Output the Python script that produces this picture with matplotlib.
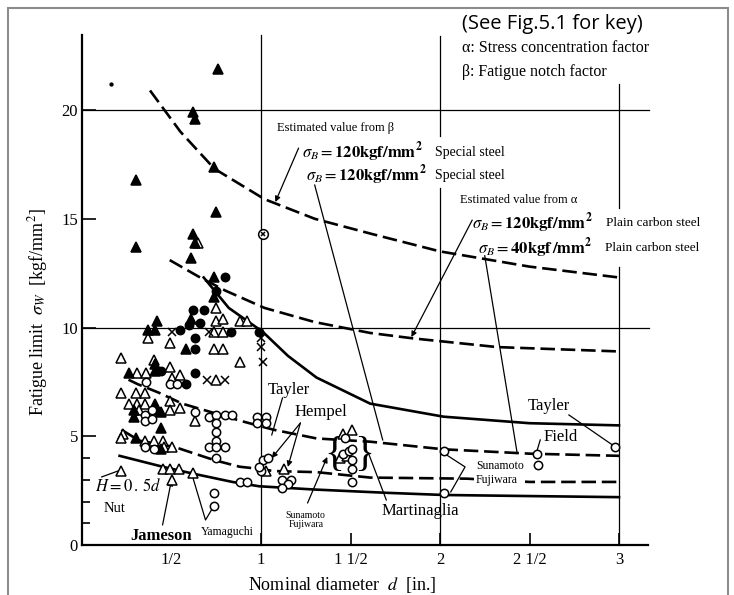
import matplotlib.pyplot as plt
from matplotlib.patches import Rectangle

plt.rcParams["font.family"] = ["Liberation Serif", "DejaVu Serif"]
plt.rcParams["mathtext.fontset"] = "stix"

# values
# x: nominal diameter d [in.], y: fatigue limit sigma_w [kgf/mm^2]
x_ticks = [0.5, 1, 1.5, 2, 2.5, 3]
x_tick_labels = ["1/2", "1", "1 1/2", "2", "2 1/2", "3"]
y_ticks = [0, 5, 10, 15, 20]
y_minor_ticks = [1, 2, 3, 4]

# estimated curves
beta1_x = [0.38, 0.55, 0.74, 1.02, 1.30, 1.62, 2.00, 2.50, 3.00]
beta1_y = [20.9, 19.0, 17.3, 15.9, 15.0, 14.3, 13.5, 12.8, 12.3]
beta2_x = [0.49, 0.66, 0.80, 1.02, 1.30, 1.61, 1.85, 2.32, 3.00]
beta2_y = [13.1, 12.3, 11.7, 10.9, 10.25, 9.75, 9.5, 9.1, 8.9]
upper_x = [0.68, 0.82, 1.01, 1.15, 1.31, 1.61, 2.02, 2.50, 3.00]
upper_y = [12.3, 10.9, 9.8, 8.7, 7.7, 6.5, 5.9, 5.6, 5.5]
alpha1_x = [0.26, 0.31, 0.43, 0.56, 0.89, 1.07, 1.31, 1.61, 2.02, 2.50, 3.00]
alpha1_y = [7.6, 7.4, 7.0, 6.5, 5.7, 5.3, 4.9, 4.75, 4.4, 4.2, 4.1]
alpha2_x = [0.22, 0.32, 0.52, 0.74, 0.88, 0.99, 1.07, 1.31, 1.61, 2.15, 2.50, 3.00]
alpha2_y = [5.3, 4.8, 4.5, 3.9, 3.6, 3.5, 3.4, 3.35, 3.1, 3.05, 2.9, 2.9]
lower_x = [0.21, 0.45, 0.61, 0.84, 0.99, 1.30, 1.70, 2.02, 2.50, 3.00]
lower_y = [4.1, 3.6, 3.3, 2.9, 2.7, 2.55, 2.4, 2.3, 2.25, 2.2]

# test points
filled_tri_x = [0.76, 0.62, 0.63, 0.30, 0.74, 0.75, 0.30, 0.62, 0.63, 0.61,
                0.74, 0.74, 0.61, 0.42, 0.37, 0.41, 0.58, 0.26, 0.41, 0.41,
                0.41, 0.29, 0.42, 0.29, 0.44, 0.44, 0.30, 0.44]
filled_tri_y = [21.9, 19.9, 19.6, 16.8, 17.4, 15.3, 13.7, 14.3, 13.9, 13.2,
                12.3, 11.4, 10.4, 10.3, 9.9, 9.9, 9.0, 7.9, 8.0, 8.3,
                6.5, 6.2, 6.2, 5.9, 6.1, 5.4, 4.9, 4.4]
open_tri_x = [0.65, 0.75, 0.37, 0.49, 0.74, 0.79, 0.75, 0.79, 0.88, 0.92,
              0.74, 0.79, 0.22, 0.40, 0.49, 0.88, 0.31, 0.36, 0.50, 0.55,
              0.75, 0.22, 0.30, 0.35, 0.26, 0.31, 0.35, 0.49, 0.49, 0.55,
              0.32, 0.63, 0.23, 0.22, 0.35, 0.40, 0.45, 0.46, 0.50, 0.22,
              0.45, 0.49, 0.54, 0.62, 0.50, 1.13, 1.03, 1.46, 1.51, 1.44, 1.48]
open_tri_y = [13.9, 10.9, 9.5, 9.3, 9.8, 9.8, 10.3, 10.4, 10.3, 10.3,
              9.0, 9.0, 8.6, 8.5, 8.2, 8.4, 7.9, 7.9, 7.7, 7.8,
              7.6, 7.0, 7.0, 7.0, 6.5, 6.5, 6.5, 6.6, 6.2, 6.3,
              6.2, 5.7, 5.1, 4.9, 4.8, 4.8, 4.8, 4.5, 4.5, 3.4,
              3.5, 3.5, 3.5, 3.3, 3.0, 3.5, 3.4, 5.1, 5.3, 4.0, 4.1]
filled_circ_x = [0.80, 0.75, 0.62, 0.68, 0.66, 0.60, 0.55, 0.83, 0.99, 0.63,
                 0.63, 0.63, 0.58, 0.44]
filled_circ_y = [12.3, 11.7, 10.8, 10.8, 10.2, 10.1, 9.9, 9.8, 9.8, 9.5,
                 9.0, 7.9, 7.4, 8.0]
open_circ_x = [0.36, 0.49, 0.53, 0.35, 0.39, 0.35, 0.39, 0.63,
               0.71, 0.75, 0.80, 0.84, 0.75, 0.75, 0.75, 0.71, 0.75, 0.80, 0.75,
               0.98, 1.03, 0.98, 1.03, 0.35, 0.40,
               1.01, 1.04, 1.00, 0.99, 0.88, 0.92, 0.74, 0.74,
               1.12, 1.17, 1.15, 1.12,
               1.47, 1.46, 1.49, 1.51, 1.51, 1.51, 1.51,
               2.02, 2.02, 2.54, 2.55, 2.98]
open_circ_y = [7.5, 7.4, 7.4, 6.0, 6.2, 5.7, 5.8, 6.1,
               5.9, 6.0, 6.0, 6.0, 5.6, 5.2, 4.8, 4.5, 4.5, 4.5, 4.0,
               5.9, 5.9, 5.6, 5.6, 4.5, 4.4,
               3.9, 4.0, 3.4, 3.6, 2.9, 2.9, 2.4, 1.8,
               3.0, 3.0, 2.8, 2.6,
               4.9, 4.2, 4.3, 4.4, 3.9, 3.5, 2.9,
               4.3, 2.4, 4.2, 3.7, 4.5]
cross_x = [0.50, 0.71, 0.70, 0.80, 1.00, 1.00, 1.01]
cross_y = [9.8, 9.8, 7.6, 7.6, 9.5, 9.1, 8.4]
otimes_x = [1.01]
otimes_y = [14.3]
stray_x = [0.16]
stray_y = [21.2]

W, H = 734, 595
fig = plt.figure(figsize=(W / 100, H / 100), dpi=100)
ax = fig.add_axes([82 / W, 50 / H, 566 / W, 510 / H])
ax.set_xlim(0, 3.162)
ax.set_ylim(0, 23.45)

for s in ["top", "right"]:
    ax.spines[s].set_visible(False)
for s in ["left", "bottom"]:
    ax.spines[s].set_linewidth(1.6)

ax.set_xticks(x_ticks)
ax.set_xticklabels(x_tick_labels, fontsize=12)
ax.set_yticks(y_ticks)
ax.set_yticklabels([str(v) for v in y_ticks], fontsize=12)
ax.set_yticks(y_minor_ticks, minor=True)
ax.tick_params(axis="x", direction="in", length=9, width=1.2, pad=5)
ax.tick_params(axis="y", which="major", direction="in", length=10, width=1.2, pad=3)
ax.tick_params(axis="y", which="minor", direction="in", length=6, width=1.2)
ax.xaxis.get_major_ticks()[0].tick1line.set_visible(False)

# grid lines of the original chart (broken where the labels sit)
grid = dict(color="black", lw=0.9, clip_on=False, zorder=1)
ax.plot([1, 1], [0, 23.45], **grid)
ax.plot([2, 2], [0, 16.4], **grid)
ax.plot([2, 2], [18.8, 23.4], **grid)
ax.plot([3, 3], [0, 12.8], **grid)
ax.plot([3, 3], [15.5, 21.2], **grid)
ax.plot([0, 3.17], [20, 20], **grid)
ax.plot([0, 3.17], [10, 10], **grid)

dash = (0, (5.5, 2.2))
ax.plot(beta1_x, beta1_y, color="black", lw=1.9, ls=dash, zorder=2)
ax.plot(beta2_x, beta2_y, color="black", lw=1.9, ls=dash, zorder=2)
ax.plot(upper_x, upper_y, color="black", lw=1.9, zorder=2)
ax.plot(alpha1_x, alpha1_y, color="black", lw=1.9, ls=dash, zorder=2)
ax.plot(alpha2_x, alpha2_y, color="black", lw=1.9, ls=dash, zorder=2)
ax.plot(lower_x, lower_y, color="black", lw=1.9, zorder=2)

mk = dict(ls="none", color="black", mew=1.1, clip_on=False, zorder=4)
ax.plot(open_tri_x, open_tri_y, marker="^", ms=6.5, mfc="white", **mk)
ax.plot(filled_tri_x, filled_tri_y, marker="^", ms=6.5, mfc="black", **mk)
ax.plot(open_circ_x, open_circ_y, marker="o", ms=6, mfc="white", **mk)
ax.plot(filled_circ_x, filled_circ_y, marker="o", ms=6, mfc="black", **mk)
ax.plot(cross_x, cross_y, marker="x", ms=5.5, **mk)
ax.plot(otimes_x, otimes_y, marker="o", ms=7, mfc="white", **mk)
ax.plot(otimes_x, otimes_y, marker="x", ms=3.5, **mk)
ax.plot(stray_x, stray_y, marker="o", ms=2, **mk)

# leader lines and arrows
line = dict(color="black", lw=0.9, zorder=3)
arrow = dict(arrowstyle="-|>", color="black", lw=0.9, mutation_scale=8, shrinkA=0, shrinkB=0)
ax.annotate("", xy=(1.08, 15.77), xytext=(1.21, 18.25), arrowprops=arrow)
ax.plot([1.30, 1.68], [16.55, 4.83], **line)
ax.annotate("", xy=(1.84, 9.56), xytext=(2.18, 14.94), arrowprops=arrow)
ax.plot([2.25, 2.43], [13.3, 4.28], **line)
ax.plot([1.12, 1.06], [6.76, 5.06], **line)
ax.annotate("", xy=(1.06, 4.0), xytext=(1.22, 5.61), arrowprops=arrow)
ax.annotate("", xy=(1.15, 3.59), xytext=(1.22, 5.61), arrowprops=arrow)
ax.annotate("", xy=(1.37, 4.05), xytext=(1.26, 1.93), arrowprops=arrow)
ax.plot([1.70, 1.60], [2.07, 4.23], **line)
ax.plot([2.02, 2.14, 2.06], [4.23, 3.59, 2.44], **line)
ax.plot([2.56, 2.54], [4.83, 4.28], **line)
ax.plot([2.72, 2.96], [5.98, 4.62], **line)
ax.plot([0.11, 0.20], [3.13, 3.40], **line)
ax.annotate("", xy=(0.50, 2.99), xytext=(0.45, 0.92), arrowprops=arrow)
ax.plot([0.61, 0.69, 0.74], [3.36, 1.15, 1.84], **line)

# curve labels
ax.text(1.09, 19.17, "Estimated value from β", fontsize=9, va="center")
sig120 = r"$\sigma_B = \mathbf{120kgf/mm^2}$"
ax.text(1.23, 18.07, sig120, fontsize=12, va="center")
ax.text(1.97, 18.07, "Special steel", fontsize=10, va="center")
ax.text(1.25, 17.01, sig120, fontsize=12, va="center")
ax.text(1.97, 17.01, "Special steel", fontsize=10, va="center")
ax.text(2.11, 15.86, "Estimated value from α", fontsize=9, va="center")
ax.text(2.18, 14.80, sig120, fontsize=12, va="center")
ax.text(2.93, 14.80, "Plain carbon steel", fontsize=9.5, va="center")
ax.text(2.21, 13.66, r"$\sigma_B = \mathbf{40kgf\,/mm^2}$", fontsize=12, va="center")
ax.text(2.92, 13.66, "Plain carbon steel", fontsize=9.5, va="center")

# researcher labels
ax.text(1.04, 7.13, "Tayler", fontsize=12, va="center")
ax.text(1.19, 6.11, "Hempel", fontsize=12, va="center")
ax.text(1.25, 1.15, "Sunamoto\nFujiwara", fontsize=7, ha="center", va="center", linespacing=1.1)
ax.text(1.89, 1.56, "Martinaglia", fontsize=12, ha="center", va="center")
ax.text(2.20, 3.30, "Sunamoto\nFujiwara", fontsize=8.5, va="center", linespacing=1.2,
        bbox=dict(facecolor="white", edgecolor="none", pad=1), zorder=5)
ax.text(2.58, 4.97, "Field", fontsize=12, va="center")
ax.text(2.49, 6.39, "Tayler", fontsize=12, va="center")
ax.text(0.07, 2.67, r"$H = 0\,.\,5d$", fontsize=12, va="center")
ax.text(0.12, 1.70, "Nut", fontsize=10.5, va="center")
ax.text(0.44, 0.41, "Jameson", fontsize=12, ha="center", va="center", fontweight="bold")
ax.text(0.81, 0.60, "Yamaguchi", fontsize=8.5, ha="center", va="center")
ax.text(1.41, 4.14, "{", fontsize=30, ha="center", va="center", fontweight="light")
ax.text(1.575, 4.14, "}", fontsize=30, ha="center", va="center", fontweight="light")

# axis titles and key notes
fig.text(38 / W, 1 - 312 / H, r"Fatigue limit  $\sigma_W$  [kgf/mm$^2$]",
         rotation=90, ha="center", va="center", fontsize=13)
fig.text(342 / W, 1 - 585 / H, r"Nominal diameter  $d$  [in.]",
         ha="center", va="center", fontsize=13)
fig.text(462 / W, 1 - 24 / H, "(See Fig.5.1 for key)",
         family=["Open Sans", "DejaVu Sans"], fontsize=14.5, va="center")
fig.text(462 / W, 1 - 48 / H, "α: Stress concentration factor", fontsize=11.5, va="center")
fig.text(462 / W, 1 - 72 / H, "β: Fatigue notch factor", fontsize=11.5, va="center")

fig.add_artist(Rectangle((8 / W, -0.05), 720 / W, 1.05 - 8 / H, transform=fig.transFigure,
                         fill=False, edgecolor="#8c8c8c", lw=1.5))

plt.savefig("out.png", dpi=100)
